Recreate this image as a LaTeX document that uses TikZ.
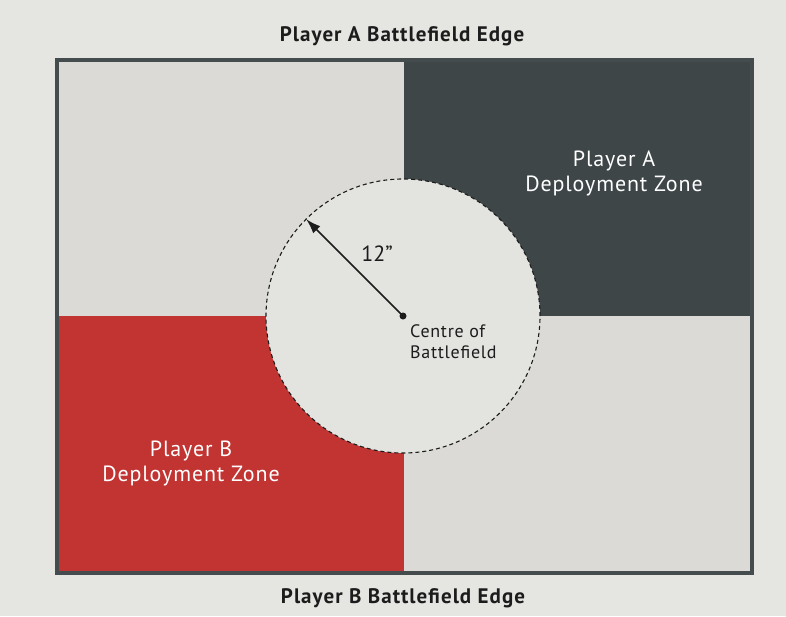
\documentclass[tikz,border=0pt]{standalone}
\usepackage{fontspec}
\setmainfont{PT Sans}
\newfontfamily\spaced[LetterSpace=5]{PT Sans}
\newfontfamily\spacedsmall[LetterSpace=4]{PT Sans}
\usetikzlibrary{arrows.meta,calc}
\definecolor{bg}{RGB}{229,229,226}
\definecolor{field}{RGB}{219,218,214}
\definecolor{zonea}{RGB}{62,70,72}
\definecolor{zoneb}{RGB}{193,52,50}
\definecolor{edgecol}{RGB}{68,76,78}
\definecolor{ink}{RGB}{28,28,28}
\definecolor{circ}{RGB}{227,227,224}
\begin{document}
\begin{tikzpicture}[x=1pt,y=1pt,
  edgetitle/.style={font=\spaced\fontsize{21}{24}\selectfont\bfseries, text=ink, inner sep=0pt},
  zonelabel/.style={font=\spacedsmall\fontsize{22}{25}\selectfont, text=white, align=center, inner sep=0pt},
  smalllabel/.style={font=\spacedsmall\fontsize{18}{21}\selectfont, text=ink, align=left, inner sep=0pt},
  radiuslabel/.style={font=\fontsize{22}{24}\selectfont, text=ink, inner sep=0pt}]
\useasboundingbox (0,0) rectangle (786,-616);
\fill[bg] (0,0) rectangle (786,-616);
% battlefield
\fill[field] (57,-60) rectangle (752,-573);
\fill[zonea] (404,-60) rectangle (752,-316);
\fill[zoneb] (57,-316) rectangle (404,-573);
\coordinate (centre) at (403,-316);
\fill[circ] (centre) circle (137);
\draw[ink, line width=1.1pt, dash pattern=on 4pt off 3pt] (centre) circle (137);
\draw[edgecol, line width=3.5pt] (57,-60) rectangle (752,-573);
% titles
\node[edgetitle] (topedge) at (402,-36) {Player A Battlefield Edge};
\node[edgetitle] (botedge) at (403,-598) {Player B Battlefield Edge};
% zone labels
\node[zonelabel] (zoneA) at (614,-173) {Player A\\Deployment Zone};
\node[zonelabel] (zoneB) at (191,-463) {Player B\\Deployment Zone};
% radius arrow
\coordinate (rim) at ($(centre)+(135:137)$);
\fill[ink] (centre) circle (3.5);
\draw[ink, line width=1.6pt, -{Latex[length=15pt,width=10pt]}] (centre) -- (rim);
\node[radiuslabel] (twelve) at (377,-254) {12”};
\node[smalllabel, anchor=north west] (centrelabel) at (410,-324) {Centre of\\Battlefield};
\end{tikzpicture}
\end{document}
